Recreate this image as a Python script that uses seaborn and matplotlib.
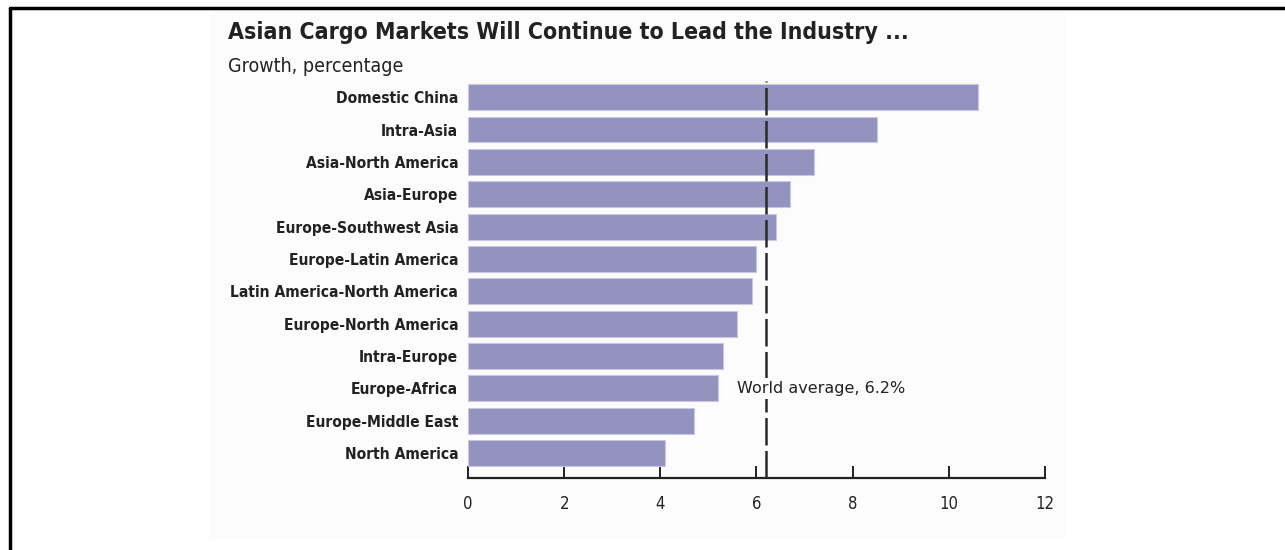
import matplotlib
matplotlib.use("Agg")
import matplotlib.pyplot as plt
import seaborn as sns
import pandas as pd

categories = ["Domestic China", "Intra-Asia", "Asia-North America", "Asia-Europe",
              "Europe-Southwest Asia", "Europe-Latin America", "Latin America-North America",
              "Europe-North America", "Intra-Europe", "Europe-Africa", "Europe-Middle East",
              "North America"]
growth = [10.6, 8.5, 7.2, 6.7, 6.4, 6.0, 5.9, 5.6, 5.3, 5.2, 4.7, 4.1]
world_average = 6.2
xticks = [0, 2, 4, 6, 8, 10, 12]

sns.set_theme(style="white")
plt.rcParams["font.family"] = ["DejaVu Sans"]
plt.rcParams["font.stretch"] = "condensed"

df = pd.DataFrame({"route": categories, "growth": growth})

W, H = 1285, 550
fig = plt.figure(figsize=(12.85, 5.5), dpi=100)
fig.patch.set_facecolor("white")

# faint panel behind the chart
fig.add_artist(plt.Rectangle((211 / W, 1 - 538 / H), (1065 - 211) / W, (538 - 10) / H,
                             transform=fig.transFigure, facecolor="#fcfcfc",
                             edgecolor="none", zorder=0))

ax = fig.add_axes([0.3642, 0.1309, 0.449, 0.7218])
ax.set_facecolor("none")

sns.barplot(data=df, x="growth", y="route", orient="h", color="#9492bf",
            saturation=1, width=0.8, edgecolor="#c9c7e2", linewidth=0.8, ax=ax)

ax.set_xlim(0, 12)
ax.set_ylim(11.77, -0.5)
ax.axvline(world_average, color="#2a2a2a", lw=1.8, dashes=(11, 2.2), zorder=3)
ax.text(5.6, 9.0, f"World average, {world_average}%", fontsize=11.5, va="center",
        ha="left", color="#222222", fontstretch="normal",
        bbox=dict(facecolor="#fcfcfc", edgecolor="none", pad=2), zorder=5)

ax.set_xticks(xticks)
ax.set_xticklabels([str(t) for t in xticks], fontsize=12)
ax.tick_params(axis="x", direction="in", length=9, width=1.4, color="#222222",
               pad=12, labelcolor="#222222", bottom=True)
ax.tick_params(axis="y", length=0, pad=7)
for lab in ax.get_yticklabels():
    lab.set_fontweight("bold")
    lab.set_fontsize(11.2)
    lab.set_color("#222222")
ax.set_xlabel("")
ax.set_ylabel("")
for s in ["top", "right", "left"]:
    ax.spines[s].set_visible(False)
ax.spines["bottom"].set_color("#222222")
ax.spines["bottom"].set_linewidth(1.6)

fig.text(228 / W, 1 - 32 / H, "Asian Cargo Markets Will Continue to Lead the Industry ...",
         fontsize=16.6, fontweight="bold", va="center", ha="left", color="#222222")
fig.text(228 / W, 1 - 66 / H, "Growth, percentage", fontsize=14,
         va="center", ha="left", color="#222222")

# outer frame lines
fig.add_artist(plt.Line2D([10 / W, 10 / W], [0, 1 - 8 / H],
                          transform=fig.transFigure, color="black", lw=2.5))
fig.add_artist(plt.Line2D([10 / W, 1], [1 - 8 / H, 1 - 8 / H],
                          transform=fig.transFigure, color="black", lw=2.5))

fig.savefig("out.png", dpi=100, facecolor=fig.get_facecolor())
